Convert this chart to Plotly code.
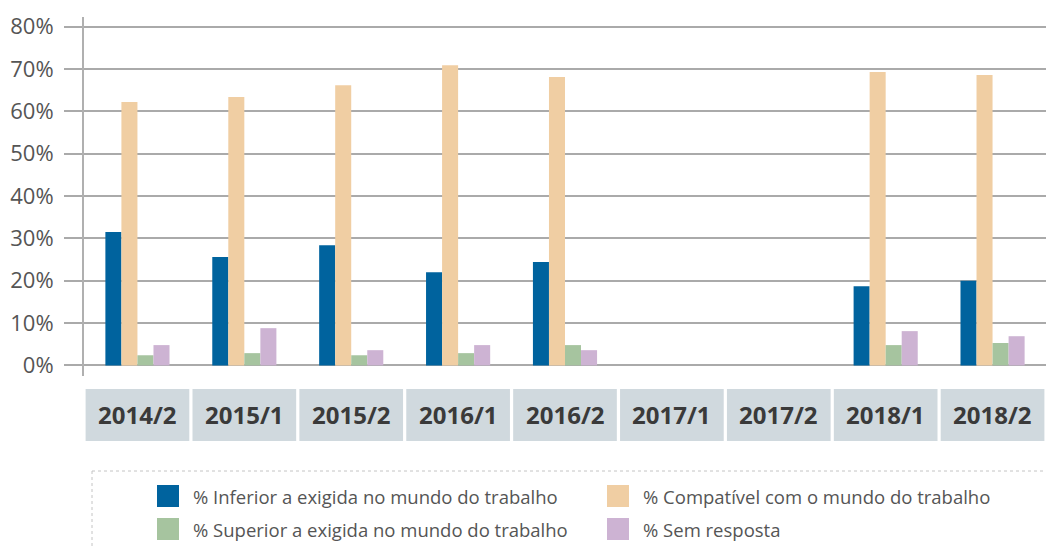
import plotly.graph_objects as go

# Semester categories and the share of answers in each group (%)
semesters = ["2014/2", "2015/1", "2015/2", "2016/1", "2016/2", "2017/1", "2017/2", "2018/1", "2018/2"]
inferior = [31.5, 25.6, 28.4, 22.0, 24.4, None, None, 18.7, 20.0]
compativel = [62.2, 63.4, 66.2, 70.9, 68.1, None, None, 69.3, 68.6]
superior = [2.4, 2.9, 2.4, 2.9, 4.8, None, None, 4.8, 5.3]
sem_resposta = [4.8, 8.8, 3.6, 4.8, 3.6, None, None, 8.1, 6.9]

series_names = [
    "% Inferior a exigida no mundo do trabalho",
    "% Compatível com o mundo do trabalho",
    "% Superior a exigida no mundo do trabalho",
    "% Sem resposta",
]
series_values = [inferior, compativel, superior, sem_resposta]
series_colors = ["#00639e", "#f0cea3", "#a6c49f", "#cdb3d3"]

y_ticks = [0, 10, 20, 30, 40, 50, 60, 70, 80]
y_tick_text = [f"{v}%" for v in y_ticks]

W, H = 1046, 549
ML, MR, MT, MB = 84, 0, 17, 173
PW, PH = W - ML - MR, H - MT - MB


def px_x(p):
    return (p - ML) / PW


def px_y(p):
    return (H - MB - p) / PH


fig = go.Figure()
for name, vals, col in zip(series_names, series_values, series_colors):
    fig.add_trace(go.Bar(x=semesters, y=vals, name=name, marker_color=col,
                         marker_line_width=0, showlegend=False))

shapes = []
annotations = []

# Grey label boxes under each category
for i, s in enumerate(semesters):
    shapes.append(dict(type="rect", xref="x", yref="paper",
                       x0=i - 0.5 + 0.015, x1=i + 0.5 - 0.015,
                       y0=px_y(441), y1=px_y(389),
                       fillcolor="#d0d9de", line_width=0, layer="below"))
    annotations.append(dict(x=s, xref="x", y=px_y(415), yref="paper",
                            text=f"<b>{s}</b>", showarrow=False,
                            font=dict(family="Open Sans", size=24, color="#3a3a3a"),
                            xanchor="center", yanchor="middle"))

# Dashed frame around the legend
shapes.append(dict(type="line", xref="paper", yref="paper",
                   x0=px_x(92), x1=px_x(1046), y0=px_y(471), y1=px_y(471),
                   line=dict(color="#c4c4c4", width=1, dash="dot")))
shapes.append(dict(type="line", xref="paper", yref="paper",
                   x0=px_x(92), x1=px_x(92), y0=px_y(471), y1=px_y(549),
                   line=dict(color="#c4c4c4", width=1, dash="dot")))

# Legend entries in two columns
legend_pos = [(157, 485), (607, 485), (157, 518), (607, 518)]
for (lx, ly), name, col in zip(legend_pos, series_names, series_colors):
    shapes.append(dict(type="rect", xref="paper", yref="paper",
                       x0=px_x(lx), x1=px_x(lx + 22), y0=px_y(ly + 22), y1=px_y(ly),
                       fillcolor=col, line_width=0))
    annotations.append(dict(x=px_x(lx + 34), xref="paper", y=px_y(ly + 11), yref="paper",
                            text=name, showarrow=False, xanchor="left", yanchor="middle",
                            font=dict(family="Open Sans", size=18.5, color="#555555")))

fig.update_layout(
    width=W, height=H,
    margin=dict(l=ML, r=MR, t=MT, b=MB),
    paper_bgcolor="white", plot_bgcolor="white",
    barmode="group", bargap=0.4, bargroupgap=0,
    shapes=shapes, annotations=annotations,
    xaxis=dict(type="category", range=[-0.5, 8.5], showticklabels=False,
               showgrid=False, zeroline=False, showline=False, ticks=""),
    yaxis=dict(range=[-2.5, 82.3], tickvals=y_ticks, ticktext=y_tick_text,
               showgrid=True, gridcolor="#aaaaaa", gridwidth=2,
               zeroline=False, showline=True, linecolor="#b0b0b0", linewidth=2,
               ticks="outside", ticklen=18, tickcolor="#aaaaaa", tickwidth=2,
               ticklabelstandoff=6,
               tickfont=dict(family="Open Sans", size=22, color="#555555")),
)

fig.write_html("out.html")
